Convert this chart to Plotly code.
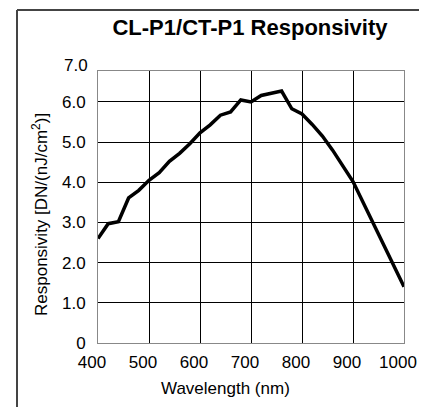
import plotly.graph_objects as go

wavelength_nm = [400, 420, 440, 460, 480, 500, 520, 540, 560, 580, 600, 620, 640, 660,
                 680, 700, 720, 760, 780, 800, 820, 840, 860, 880, 900, 1000]
responsivity = [2.60, 2.97, 3.02, 3.61, 3.80, 4.05, 4.24, 4.52, 4.72, 4.96, 5.23, 5.43, 5.67, 5.75,
                6.05, 6.00, 6.16, 6.27, 5.83, 5.70, 5.44, 5.15, 4.80, 4.42, 4.02, 1.40]

x_ticks = [400, 500, 600, 700, 800, 900, 1000]
x_tick_labels = ["400", "500", "600", "700", "800", "900", "1000"]
y_ticks = [0, 1, 2, 3, 4, 5, 6]
y_tick_labels = ["0", "1.0", "2.0", "3.0", "4.0", "5.0", "6.0"]
y_top_label = "7.0"

title_text = "CL-P1/CT-P1 Responsivity"
x_title = "Wavelength (nm)"
y_title = "Responsivity [DN/(nJ/cm<sup>2</sup>)]"

FONT = "Liberation Sans, Arial, sans-serif"

fig = go.Figure()
fig.add_trace(go.Scatter(x=wavelength_nm, y=responsivity, mode="lines",
                         line=dict(color="black", width=3.5), showlegend=False,
                         hoverinfo="skip"))

# page body has an 8px margin: lay the figure out in window pixels minus that offset
OFF = 8
W, H = 427 - OFF, 408 - OFF
plot_left, plot_right, plot_top, plot_bottom = 98, 404, 71, 343  # window pixels
L, R = plot_left - OFF, W - (plot_right - OFF)
T, B = plot_top - OFF, H - (plot_bottom - OFF)
pw, ph = W - L - R, H - T - B

def px_x(p):
    return (p - plot_left) / pw

def px_y(p):
    return (plot_bottom - p) / ph

fig.update_layout(
    width=W, height=H,
    margin=dict(l=L, r=R, t=T, b=B, autoexpand=False),
    paper_bgcolor="white", plot_bgcolor="white",
    font=dict(family=FONT, color="black", size=17),
    title=dict(text="<b>" + title_text + "</b>", x=(250 - OFF) / W, xanchor="center",
               y=1 - (27 - OFF) / H, yanchor="middle",
               font=dict(family=FONT, size=22, color="black")),
    xaxis=dict(range=[400, 1000], tickvals=x_ticks, ticktext=x_tick_labels,
               showgrid=True, gridcolor="black", gridwidth=1, zeroline=False,
               showline=True, linecolor="#888888", linewidth=1, mirror=True,
               ticks="", ticklen=0, ticklabelshift=-6, ticklabelstandoff=4,
               automargin=False, tickfont=dict(size=17)),
    yaxis=dict(range=[0, 6.77], tickvals=y_ticks, ticktext=y_tick_labels,
               showgrid=True, gridcolor="black", gridwidth=1, zeroline=False,
               showline=True, linecolor="#888888", linewidth=1, mirror=True,
               ticks="", ticklen=0, ticklabelstandoff=8, automargin=False,
               tickfont=dict(size=17)),
    shapes=[
        dict(type="line", xref="paper", yref="paper", layer="above",
             x0=px_x(17), x1=px_x(17), y0=px_y(407), y1=px_y(10),
             line=dict(color="#444444", width=2)),
        dict(type="line", xref="paper", yref="paper", layer="above",
             x0=px_x(17), x1=px_x(426), y0=px_y(10), y1=px_y(10),
             line=dict(color="#444444", width=2)),
    ],
    annotations=[
        dict(text=y_top_label, xref="paper", yref="paper", x=px_x(89.5), y=px_y(65),
             xanchor="right", yanchor="middle", showarrow=False,
             font=dict(family=FONT, size=17, color="black")),
        dict(text=x_title, xref="paper", yref="paper", x=px_x(225), y=px_y(388),
             xanchor="center", yanchor="middle", showarrow=False,
             font=dict(family=FONT, size=17, color="black")),
        dict(text=y_title, xref="paper", yref="paper", x=px_x(40), y=px_y(215),
             xanchor="center", yanchor="middle", showarrow=False, textangle=-90,
             font=dict(family=FONT, size=17, color="black")),
    ],
)

fig.write_html("out.html")
